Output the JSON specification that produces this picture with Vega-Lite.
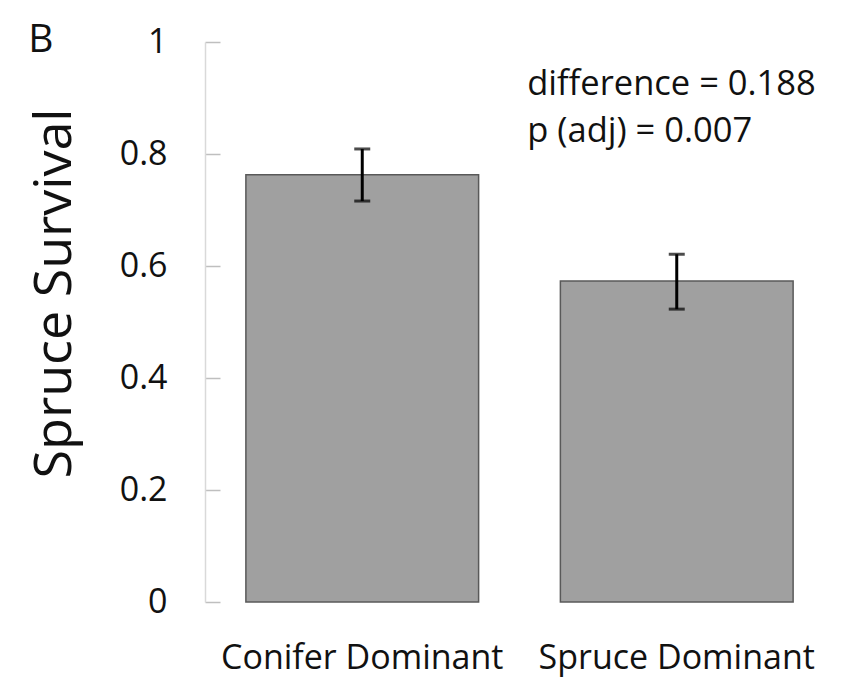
{
  "$schema": "https://vega.github.io/schema/vega-lite/v6.json",
  "width": 629,
  "height": 560,
  "autosize": "none",
  "padding": {"left": 205, "top": 42, "right": 16, "bottom": 85},
  "background": "white",
  "config": {
    "view": {"stroke": null},
    "font": "Open Sans",
    "axis": {"labelFont": "Open Sans", "titleFont": "Open Sans", "labelColor": "#111111", "titleColor": "#111111"}
  },
  "data": {
    "values": [
      {"group": "Conifer Dominant", "survival": 0.763, "lower": 0.716, "upper": 0.809},
      {"group": "Spruce Dominant", "survival": 0.573, "lower": 0.523, "upper": 0.621}
    ]
  },
  "encoding": {
    "x": {
      "field": "group",
      "type": "nominal",
      "sort": null,
      "scale": {"paddingInner": 0.26, "paddingOuter": 0.13},
      "axis": {
        "title": null,
        "labelAngle": 0,
        "labelFontSize": 34,
        "labelLimit": 0,
        "labelBaseline": "alphabetic",
        "labelPadding": 66,
        "domain": false,
        "ticks": false
      }
    }
  },
  "layer": [
    {
      "mark": {"type": "bar", "color": "#a0a0a0", "stroke": "#595959", "strokeWidth": 1.5},
      "encoding": {
        "y": {
          "field": "survival",
          "type": "quantitative",
          "scale": {"domain": [0, 1], "nice": false},
          "axis": {
            "title": "Spruce Survival",
            "titleFontSize": 52,
            "titleFontWeight": "normal",
            "titleAngle": -90,
            "titleAlign": "center",
            "titleBaseline": "alphabetic",
            "titleX": -135,
            "titleY": 251,
            "values": [0, 0.2, 0.4, 0.6, 0.8, 1],
            "format": ".1~f",
            "labelFontSize": 34,
            "labelPadding": 53,
            "tickSize": -15,
            "tickColor": "#bfbfbf",
            "tickWidth": 1.5,
            "domainColor": "#d9d9d9",
            "domainWidth": 1.5,
            "grid": false
          }
        }
      }
    },
    {
      "mark": {"type": "rule", "color": "#000000", "strokeWidth": 3},
      "encoding": {
        "y": {"field": "lower", "type": "quantitative"},
        "y2": {"field": "upper"}
      }
    },
    {
      "mark": {"type": "tick", "color": "#000000", "thickness": 3, "size": 16},
      "encoding": {"y": {"field": "lower", "type": "quantitative"}}
    },
    {
      "mark": {"type": "tick", "color": "#000000", "thickness": 3, "size": 16},
      "encoding": {"y": {"field": "upper", "type": "quantitative"}}
    },
    {
      "data": {"values": [{"label": "B"}]},
      "mark": {"type": "text", "align": "left", "baseline": "alphabetic", "fontSize": 39, "color": "#111111", "dx": -334},
      "encoding": {
        "x": {"datum": "Conifer Dominant"},
        "y": {"datum": 0.982},
        "text": {"field": "label"}
      }
    },
    {
      "data": {"values": [{"label": "difference = 0.188"}]},
      "mark": {"type": "text", "align": "left", "baseline": "alphabetic", "fontSize": 34.5, "color": "#111111", "dx": -149.5},
      "encoding": {
        "x": {"datum": "Spruce Dominant"},
        "y": {"datum": 0.905},
        "text": {"field": "label"}
      }
    },
    {
      "data": {"values": [{"label": "p (adj) = 0.007"}]},
      "mark": {"type": "text", "align": "left", "baseline": "alphabetic", "fontSize": 34.5, "color": "#111111", "dx": -149.5},
      "encoding": {
        "x": {"datum": "Spruce Dominant"},
        "y": {"datum": 0.821},
        "text": {"field": "label"}
      }
    }
  ]
}
